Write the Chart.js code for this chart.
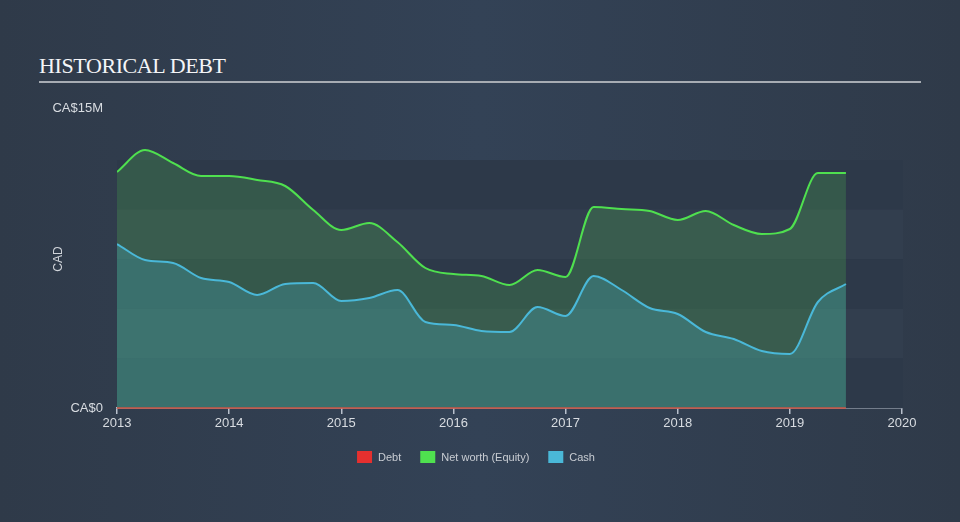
<!DOCTYPE html>
<html>
<head>
<meta charset="utf-8">
<script src="https://cdn.jsdelivr.net/npm/chart.js@4.4.0/dist/chart.umd.min.js"></script>
<style>
  html, body { margin: 0; padding: 0; }
  body {
    width: 960px; height: 522px; overflow: hidden;
    background: linear-gradient(90deg, #2f3a49 0%, #334256 50%, #2f3a49 100%);
    position: relative;
    font-family: "Liberation Sans", Arial, sans-serif;
  }
  #title {
    position: absolute; left: 39px; top: 54px;
    font-family: "Liberation Serif", "Times New Roman", serif;
    font-size: 22px; letter-spacing: -0.4px; color: #f4f5f7;
    line-height: 24px;
  }
  #rule {
    position: absolute; left: 39px; top: 81px; width: 882px; height: 2px;
    background: #a7acb3;
  }
  #wrap { position: absolute; left: 0; top: 0; width: 960px; height: 522px; }
</style>
</head>
<body>
<div id="title">HISTORICAL DEBT</div>
<div id="rule"></div>
<div id="wrap"><canvas id="c" width="960" height="522"></canvas></div>
<script>
// ---- data (values in CA$ millions) ----
const dates = [2013.00, 2013.25, 2013.50, 2013.75, 2014.00, 2014.25, 2014.50, 2014.75,
               2015.00, 2015.25, 2015.50, 2015.75, 2016.00, 2016.25, 2016.50, 2016.75,
               2017.00, 2017.25, 2017.50, 2017.75, 2018.00, 2018.25, 2018.50, 2018.75,
               2019.00, 2019.25, 2019.50];
const equity = [11.8, 12.9, 12.25, 11.6, 11.6, 11.4, 11.1, 9.9,
                8.9, 9.25, 8.3, 7.0, 6.7, 6.6, 6.15, 6.9,
                6.55, 10.05, 9.95, 9.85, 9.4, 9.85, 9.15, 8.7,
                8.95, 11.75, 11.75];
const cash = [8.2, 7.4, 7.25, 6.5, 6.3, 5.65, 6.2, 6.25,
              5.35, 5.5, 5.9, 4.3, 4.15, 3.85, 3.8, 5.05,
              4.6, 6.6, 5.9, 5.0, 4.7, 3.8, 3.45, 2.85,
              2.7, 5.3, 6.2];
const debt = [0, 0, 0, 0, 0, 0, 0, 0, 0, 0, 0, 0, 0, 0, 0, 0, 0, 0, 0, 0, 0, 0, 0, 0, 0, 0, 0];
const yTicks = [0, 15];
const xTicks = [2013, 2014, 2015, 2016, 2017, 2018, 2019, 2020];
const legendNames = ["Debt", "Net worth (Equity)", "Cash"];

const pts = arr => arr.map((v, i) => ({ x: dates[i], y: v }));

const colDebt = "#e5302f", colEq = "#4fe04f", colCash = "#4ab8d8";

const bandsPlugin = {
  id: "bands",
  beforeDatasetsDraw(chart) {
    const { ctx, chartArea: a, scales: { y } } = chart;
    const top = y.getPixelForValue(12.4);
    const bottom = y.getPixelForValue(0);
    const n = 5, h = (bottom - top) / n;
    ctx.save();
    for (let i = 0; i < n; i++) {
      ctx.fillStyle = i % 2 === 0 ? "#2d3949" : "#323e4e";
      ctx.fillRect(a.left, top + i * h, a.right - a.left + 1, h);
    }
    ctx.restore();
  }
};

const extrasPlugin = {
  id: "extras",
  afterDraw(chart) {
    const { ctx } = chart;
    ctx.save();
    ctx.translate(59, 259);
    ctx.rotate(-Math.PI / 2);
    ctx.fillStyle = "#d0d4da";
    ctx.font = "12px 'Liberation Sans', Arial, sans-serif";
    ctx.textAlign = "center";
    ctx.textBaseline = "middle";
    ctx.fillText("CAD", 0, 0);
    ctx.restore();

    ctx.save();
    ctx.font = "11px 'Liberation Sans', Arial, sans-serif";
    ctx.textBaseline = "middle";
    const cols = [colDebt, colEq, colCash];
    const boxW = 15, boxH = 12, gapText = 6, gapItem = 19;
    let total = 0;
    const widths = legendNames.map(t => ctx.measureText(t).width);
    widths.forEach((w, i) => { total += boxW + gapText + w + (i < widths.length - 1 ? gapItem : 0); });
    let x = 476 - total / 2;
    const yc = 457;
    legendNames.forEach((t, i) => {
      ctx.fillStyle = cols[i];
      ctx.fillRect(x, yc - boxH / 2, boxW, boxH);
      x += boxW + gapText;
      ctx.fillStyle = "#c9cdd3";
      ctx.fillText(t, x, yc + 0.5);
      x += widths[i] + gapItem;
    });
    ctx.restore();
  }
};

new Chart(document.getElementById("c"), {
  type: "line",
  data: {
    datasets: [
      { label: legendNames[0], data: pts(debt), borderColor: "rgba(229,80,60,0.85)", borderWidth: 1.5,
        pointRadius: 0, fill: false, clip: false },
      { label: legendNames[2], data: pts(cash), borderColor: colCash, borderWidth: 2,
        backgroundColor: "rgba(75,185,210,0.25)", pointRadius: 0, fill: "origin",
        cubicInterpolationMode: "monotone" },
      { label: legendNames[1], data: pts(equity), borderColor: colEq, borderWidth: 2,
        backgroundColor: "rgba(80,200,80,0.22)", pointRadius: 0, fill: "origin",
        cubicInterpolationMode: "monotone" }
    ]
  },
  options: {
    responsive: false,
    animation: false,
    events: [],
    layout: { padding: { left: 0, right: 58, top: 108, bottom: 0 } },
    plugins: { legend: { display: false }, tooltip: { enabled: false } },
    scales: {
      x: {
        type: "linear", min: 2013, max: 2020,
        afterBuildTicks: s => { s.ticks = xTicks.map(v => ({ value: v })); },
        afterFit: s => { s.height = 114; },
        border: { display: true, color: "#b8c0cc", width: 1.5 },
        grid: { display: true, drawOnChartArea: false, drawTicks: true, tickLength: 6, color: "#b8c0cc", lineWidth: 1.5 },
        ticks: { color: "#d8dce1", padding: 2, maxRotation: 0,
                 font: { family: "'Liberation Sans', Arial, sans-serif", size: 13 },
                 callback: v => String(v) }
      },
      y: {
        min: 0, max: 15,
        afterBuildTicks: s => { s.ticks = yTicks.map(v => ({ value: v })); },
        afterFit: s => { s.width = 117; },
        border: { display: false },
        grid: { display: false, drawTicks: false },
        ticks: { color: "#d8dce1", padding: 14,
                 font: { family: "'Liberation Sans', Arial, sans-serif", size: 13 },
                 callback: v => v === 0 ? "CA$0" : "CA$" + v + "M" }
      }
    }
  },
  plugins: [bandsPlugin, extrasPlugin]
});
</script>
</body>
</html>
